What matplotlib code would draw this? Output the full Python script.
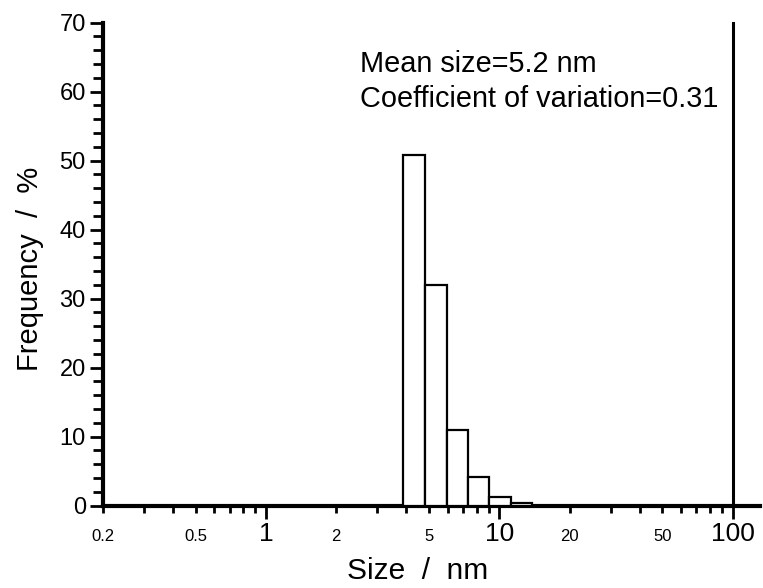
import matplotlib
matplotlib.use("Agg")
import matplotlib.pyplot as plt
from matplotlib.ticker import FixedLocator, FuncFormatter, MultipleLocator
import numpy as np

plt.rcParams['font.family'] = ['Liberation Sans', 'DejaVu Sans']

# bin edges (nm) and frequencies (%)
edges = [3.88, 4.80, 5.95, 7.32, 9.05, 11.19, 13.76]
freq = [50.8, 32.0, 10.9, 4.2, 1.3, 0.4]

major_x = [1, 10, 100]
minor_lab = [0.2, 0.5, 2, 5, 20, 50]
minor_x = [m * d for d in [0.1, 1, 10] for m in range(2, 10)]

fig = plt.figure(figsize=(7.63, 5.88), dpi=100)
ax = fig.add_axes([0.135, 0.1403, 0.861, 0.8214])

left = np.array(edges[:-1])
widths = np.diff(edges)
ax.bar(left, freq, width=widths, align='edge', facecolor='white',
       edgecolor='black', linewidth=1.6, zorder=3)

ax.set_xscale('log')
ax.set_xlim(0.2, 131)
ax.set_ylim(0, 70)

ax.spines['top'].set_visible(False)
ax.spines['right'].set_position(('data', 100))
for s in ['left', 'bottom']:
    ax.spines[s].set_linewidth(3)
ax.spines['right'].set_linewidth(2.2)

ax.xaxis.set_major_locator(FixedLocator(major_x))
ax.xaxis.set_minor_locator(FixedLocator(minor_x))
ax.xaxis.set_major_formatter(FuncFormatter(lambda v, p: '%g' % v))
ax.xaxis.set_minor_formatter(FuncFormatter(
    lambda v, p: ('%g' % v) if any(abs(v - m) < 1e-9 for m in minor_lab) else ''))

ax.yaxis.set_major_locator(MultipleLocator(10))
ax.yaxis.set_minor_locator(MultipleLocator(2))

ax.tick_params(axis='both', which='both', direction='out', width=2,
               top=False, right=False)
ax.tick_params(axis='y', which='major', length=9.4, labelsize=17, pad=3)
ax.tick_params(axis='y', which='minor', length=7)
# x labels share one baseline
ax.tick_params(axis='x', which='major', length=9.4, labelsize=19, pad=16.2)
ax.tick_params(axis='x', which='minor', length=4.7, labelsize=12, pad=20.9)
for t in ax.xaxis.get_major_ticks() + ax.xaxis.get_minor_ticks():
    t.label1.set_va('baseline')

ax.set_xlabel('Size  /  nm', fontsize=21.5)
ax.xaxis.set_label_coords(0.479, -0.152)
ax.xaxis.label.set_va('baseline')
ax.set_ylabel('Frequency  /  %', fontsize=21)
ax.yaxis.set_label_coords(-0.09, 0.49)

ax.text(0.3912, 0.898, 'Mean size=5.2 nm', transform=ax.transAxes,
        fontsize=20.8, va='baseline', ha='left')
ax.text(0.3912, 0.8257, 'Coefficient of variation=0.31', transform=ax.transAxes,
        fontsize=20.8, va='baseline', ha='left')

fig.savefig('out.png', dpi=100)
